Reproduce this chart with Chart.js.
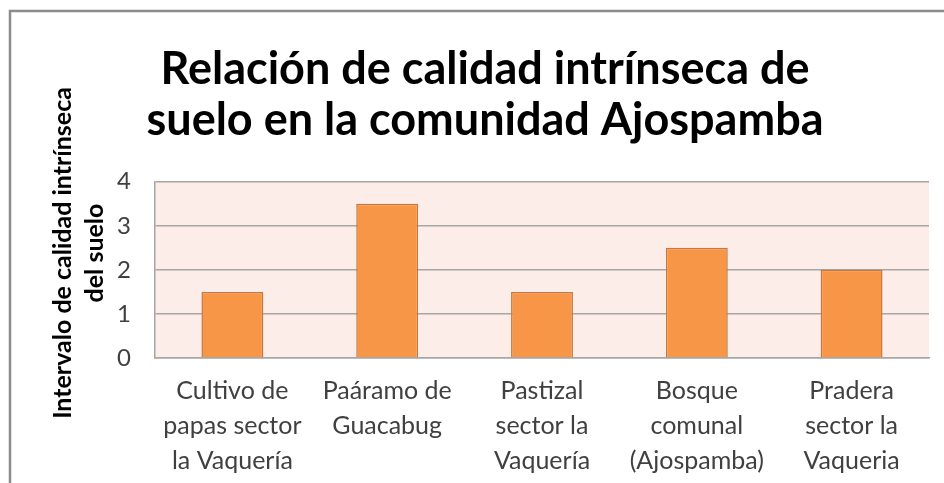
<!DOCTYPE html>
<html>
<head>
<meta charset="utf-8">
<script src="https://cdn.jsdelivr.net/npm/chart.js@4/dist/chart.umd.min.js"></script>
<style>
  html, body { margin: 0; padding: 0; background: #ffffff; }
  #wrap { width: 944px; height: 483px; position: relative; }
</style>
</head>
<body>
<div id="wrap"><canvas id="c" width="944" height="483"></canvas></div>
<script>
const categories = [
  ["Cultivo de", "papas sector", "la Vaquería"],
  ["Paáramo de", "Guacabug"],
  ["Pastizal", "sector la", "Vaquería"],
  ["Bosque", "comunal", "(Ajospamba)"],
  ["Pradera", "sector la", "Vaqueria"]
];
const values = [1.5, 3.5, 1.5, 2.5, 2.0];
const yTicks = [0, 1, 2, 3, 4];
const titleLines = ["Relación de calidad intrínseca de", "suelo en la comunidad Ajospamba"];
const yTitleLines = ["Intervalo de calidad intrínseca", "del suelo"];

const FONT = "Lato, 'Open Sans', sans-serif";

const framePlugin = {
  id: 'frame',
  beforeDraw(chart) {
    const ctx = chart.ctx;
    const a = chart.chartArea;
    ctx.save();
    ctx.fillStyle = '#ffffff';
    ctx.fillRect(0, 0, chart.width, chart.height);
    ctx.strokeStyle = '#8c8c8c';
    ctx.lineWidth = 2.5;
    ctx.strokeRect(10, 11, chart.width + 20, chart.height + 20);
    ctx.fillStyle = '#fcede8';
    ctx.fillRect(a.left, a.top, a.right - a.left, a.bottom - a.top);
    ctx.restore();
  },
  afterDraw(chart) {
    const ctx = chart.ctx;
    ctx.save();
    ctx.fillStyle = '#000000';
    ctx.font = "bold 25px " + FONT;
    ctx.textAlign = 'center';
    ctx.textBaseline = 'middle';
    const cy = 253;
    yTitleLines.forEach((t, i) => {
      ctx.save();
      ctx.translate(63 + i * 32, cy);
      ctx.rotate(-Math.PI / 2);
      ctx.fillText(t, 0, 0);
      ctx.restore();
    });
    ctx.restore();
  }
};

new Chart(document.getElementById('c'), {
  type: 'bar',
  data: {
    labels: categories,
    datasets: [{
      data: values,
      backgroundColor: '#f79646',
      borderColor: '#c8773e',
      borderWidth: 1.5,
      barPercentage: 0.4,
      categoryPercentage: 1.0
    }]
  },
  options: {
    responsive: false,
    animation: false,
    devicePixelRatio: 1,
    layout: { padding: { left: 41, right: 15, top: 0, bottom: 0 } },
    plugins: {
      legend: { display: false },
      tooltip: { enabled: false },
      title: {
        display: true,
        text: titleLines,
        color: '#000000',
        font: { family: FONT, size: 45, weight: 'bold', lineHeight: 1.13 },
        padding: { top: 44, bottom: 36 }
      }
    },
    scales: {
      x: {
        afterFit(s) { s.height = 125; },
        grid: { display: false, drawTicks: false },
        border: { display: true, color: '#a6a6a6', width: 1.5 },
        ticks: {
          color: '#404040',
          font: { family: FONT, size: 25, lineHeight: 1.4 },
          padding: 15,
          maxRotation: 0,
          autoSkip: false
        }
      },
      y: {
        min: 0,
        max: 4,
        afterFit(s) { s.width = 114; },
        grid: { color: '#a6a6a6', lineWidth: 1.5, drawTicks: false },
        border: { display: true, color: '#a6a6a6', width: 1.5 },
        ticks: {
          stepSize: 1,
          color: '#404040',
          font: { family: FONT, size: 24 },
          padding: 24,
          callback: (v) => yTicks.includes(v) ? String(v) : ''
        }
      }
    }
  },
  plugins: [framePlugin]
});
</script>
</body>
</html>
